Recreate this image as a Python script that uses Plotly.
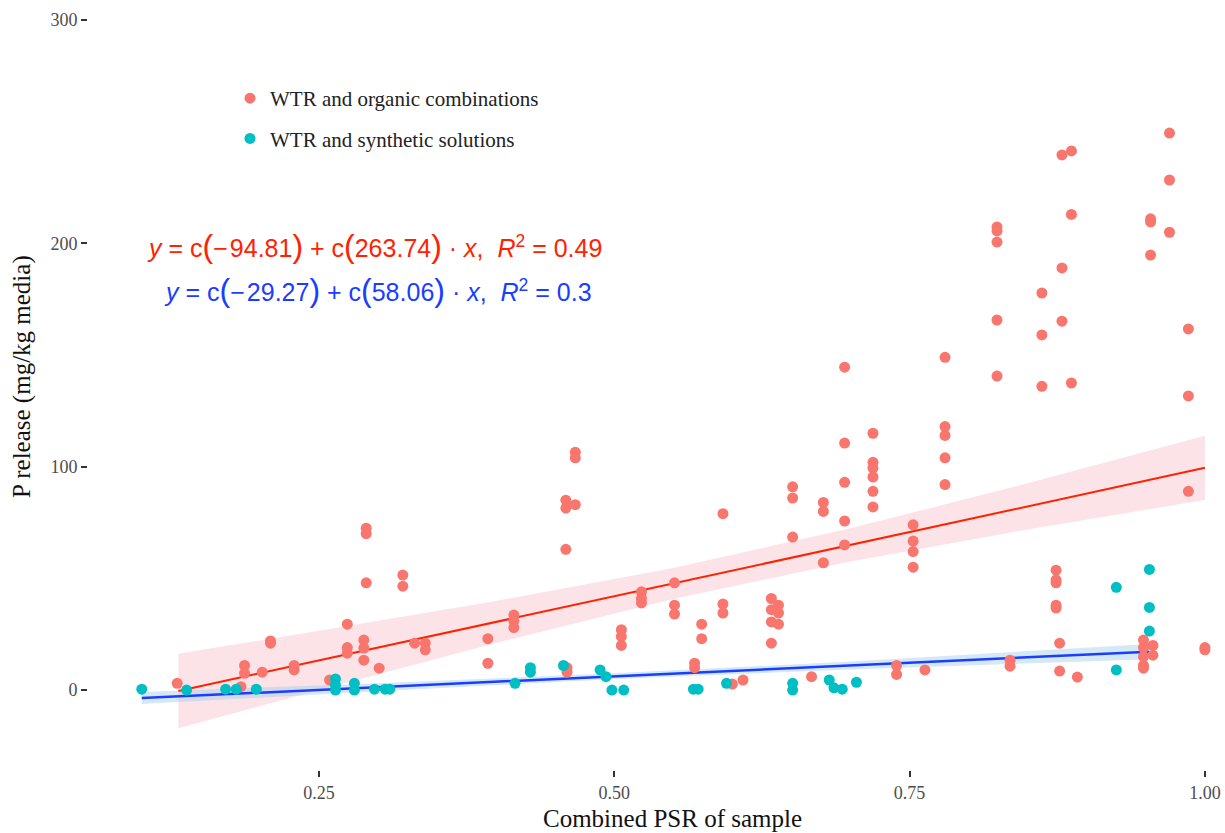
import plotly.graph_objects as go

# ---------------- data ----------------
organic_x = [0.130, 0.184, 0.187, 0.187, 0.202, 0.209, 0.209, 0.229, 0.229, 0.259,
             0.274, 0.274, 0.274, 0.288, 0.288, 0.288, 0.290, 0.290, 0.290, 0.301,
             0.321, 0.321, 0.331, 0.340, 0.340,
             0.393, 0.393, 0.415, 0.415, 0.415, 0.459, 0.459, 0.467, 0.467, 0.467,
             0.459, 0.460, 0.460, 0.506, 0.506, 0.506, 0.523, 0.523, 0.523,
             0.551, 0.551, 0.551, 0.574, 0.574, 0.568, 0.568, 0.592, 0.592, 0.592,
             0.600, 0.609,
             0.633, 0.633, 0.633, 0.633, 0.639, 0.639, 0.639, 0.651, 0.651, 0.651,
             0.667, 0.677, 0.677, 0.677, 0.695, 0.695, 0.695, 0.695, 0.695,
             0.719, 0.719, 0.719, 0.719, 0.719, 0.719, 0.739, 0.739,
             0.753, 0.753, 0.753, 0.753, 0.763, 0.780, 0.780, 0.780, 0.780, 0.780,
             0.824, 0.824, 0.824, 0.824, 0.824, 0.835, 0.835,
             0.862, 0.862, 0.862, 0.874, 0.874, 0.874, 0.874, 0.874, 0.877, 0.877,
             0.879, 0.879, 0.879, 0.887, 0.887, 0.887, 0.892,
             0.954, 0.954, 0.954, 0.948, 0.948, 0.948, 0.948, 0.948, 0.956, 0.956,
             0.970, 0.970, 0.970, 0.986, 0.986, 0.986, 1.000, 1.000]
organic_y = [3.0, 1.5, 11.0, 7.5, 8.0, 22.0, 21.0, 11.0, 9.0, 4.5,
             29.5, 19.0, 16.5, 22.4, 18.8, 13.4, 72.5, 70.0, 48.0, 9.8,
             51.5, 46.5, 21.0, 21.0, 18.0,
             23.0, 12.0, 33.6, 31.0, 28.0, 85.0, 81.5, 83.0, 106.5, 104.0,
             63.0, 10.0, 8.0, 27.0, 24.0, 20.0, 44.0, 41.0, 39.0,
             48.0, 38.0, 34.0, 29.5, 23.0, 12.0, 10.0, 79.0, 38.5, 34.5,
             2.7, 4.5,
             41.0, 36.0, 30.5, 21.0, 38.0, 34.5, 29.5, 91.0, 86.0, 68.5,
             6.0, 84.0, 80.0, 57.0, 144.6, 110.6, 93.0, 75.7, 65.0,
             115.0, 102.0, 99.4, 95.4, 89.0, 82.0, 11.0, 7.0,
             74.0, 66.7, 62.0, 55.0, 9.0, 149.0, 118.0, 114.0, 104.0, 92.0,
             207.4, 205.6, 200.6, 165.7, 140.6, 13.4, 10.7,
             177.8, 159.0, 136.0, 53.7, 49.3, 48.0, 38.0, 36.7, 21.0, 8.5,
             239.6, 189.0, 165.2, 241.4, 213.0, 137.5, 5.8,
             211.0, 209.6, 194.8, 22.4, 19.0, 15.0, 11.0, 9.8, 20.0, 15.6,
             249.4, 228.4, 205.0, 161.7, 131.7, 89.0, 19.0, 18.0]

synthetic_x = [0.100, 0.138, 0.171, 0.180, 0.197, 0.264, 0.264, 0.264, 0.280, 0.280,
               0.297, 0.306, 0.310, 0.416, 0.429, 0.429, 0.457, 0.488, 0.493,
               0.498, 0.508, 0.567, 0.571, 0.595, 0.651, 0.651, 0.682, 0.686,
               0.693, 0.705, 0.925, 0.925, 0.953, 0.953, 0.953]
synthetic_y = [0.4, 0.0, 0.4, 0.4, 0.4, 5.0, 2.2, 0.0, 3.0, 0.0,
               0.4, 0.4, 0.4, 3.0, 10.0, 8.0, 11.0, 9.0, 6.0,
               0.0, 0.0, 0.4, 0.4, 3.0, 3.0, 0.0, 4.5, 1.0,
               0.4, 3.5, 46.0, 9.0, 54.0, 37.0, 26.4]

# fitted lines and confidence bands (as drawn in the reference)
org_fit_x = [0.131, 0.25, 0.40, 0.55, 0.70, 0.85, 1.0]
org_fit_y = [-0.4, 13.3, 30.5, 47.8, 65.0, 82.3, 99.5]
org_fit_lo = [-17.1, 0.0, 21.1, 40.8, 57.6, 71.9, 85.1]
org_fit_hi = [16.3, 26.5, 39.9, 54.7, 72.4, 92.6, 113.9]

syn_fit_x = [0.100, 0.30, 0.50, 0.70, 0.953]
syn_fit_y = [-3.6, 1.3, 6.2, 11.0, 17.2]
syn_fit_lo = [-6.3, -0.5, 4.9, 9.2, 13.8]
syn_fit_hi = [-0.9, 3.1, 7.5, 12.8, 20.6]

series_names = ["WTR and organic combinations", "WTR and synthetic solutions"]
P_OPEN = "<span style='font-size:32px'>(</span>"
P_CLOSE = "<span style='font-size:32px'>)</span>"
eq_organic = ("<i>y</i> = c" + P_OPEN + "\u2212\u200a94.81" + P_CLOSE +
              " + c" + P_OPEN + "263.74" + P_CLOSE + " \u00b7 <i>x</i>,"
              "  <i>R</i><sup>2</sup> = 0.49")
eq_synthetic = ("<i>y</i> = c" + P_OPEN + "\u2212\u200a29.27" + P_CLOSE +
                " + c" + P_OPEN + "58.06" + P_CLOSE + " \u00b7 <i>x</i>,"
                "  <i>R</i><sup>2</sup> = 0.3")

x_ticks = [0.25, 0.50, 0.75, 1.00]
x_ticklabels = ["0.25", "0.50", "0.75", "1.00"]
y_ticks = [0, 100, 200, 300]
y_ticklabels = ["0", "100", "200", "300"]

# ---------------- figure ----------------
RED_PT = "#F8766D"
CYAN_PT = "#00BFC4"
SERIF = "Liberation Serif, Times New Roman, serif"
SANS = "Liberation Sans, Arial, sans-serif"

W, H = 1225, 833
L, R, T, B = 88, 0, 0, 63
pw, ph = W - L - R, H - T - B

fig = go.Figure()

# confidence bands
fig.add_trace(go.Scatter(x=org_fit_x + org_fit_x[::-1], y=org_fit_hi + org_fit_lo[::-1],
                         fill="toself", fillcolor="rgba(248,200,208,0.5)", line=dict(width=0),
                         mode="lines", showlegend=False, hoverinfo="skip"))
fig.add_trace(go.Scatter(x=syn_fit_x + syn_fit_x[::-1], y=syn_fit_hi + syn_fit_lo[::-1],
                         fill="toself", fillcolor="rgba(160,205,235,0.45)", line=dict(width=0),
                         mode="lines", showlegend=False, hoverinfo="skip"))
# fitted lines
fig.add_trace(go.Scatter(x=org_fit_x, y=org_fit_y, mode="lines",
                         line=dict(color="#FF2200", width=2), showlegend=False, hoverinfo="skip"))
fig.add_trace(go.Scatter(x=syn_fit_x, y=syn_fit_y, mode="lines",
                         line=dict(color="#1A3DFF", width=2.5), showlegend=False, hoverinfo="skip"))
# points
fig.add_trace(go.Scatter(x=organic_x, y=organic_y, mode="markers", name=series_names[0],
                         marker=dict(color=RED_PT, size=11, line=dict(width=0)),
                         legendgroup="a"))
fig.add_trace(go.Scatter(x=synthetic_x, y=synthetic_y, mode="markers", name=series_names[1],
                         marker=dict(color=CYAN_PT, size=11, line=dict(width=0)),
                         legendgroup="b"))

fig.add_annotation(x=0.297, y=199, xref="x", yref="y", text=eq_organic, showarrow=False,
                   font=dict(family=SANS, size=25, color="#FF2200"), xanchor="center", yanchor="middle")
fig.add_annotation(x=0.300, y=179, xref="x", yref="y", text=eq_synthetic, showarrow=False,
                   font=dict(family=SANS, size=25, color="#1A3DFF"), xanchor="center", yanchor="middle")

# axis titles (pixel positions converted to paper coordinates)
fig.add_annotation(x=(672 - L) / pw, y=1 - (818 - T) / ph, xref="paper", yref="paper",
                   text="Combined PSR of sample", showarrow=False,
                   xanchor="center", yanchor="middle",
                   font=dict(family=SERIF, size=25, color="#111111"))
fig.add_annotation(x=(22 - L) / pw, y=1 - (377 - T) / ph, xref="paper", yref="paper",
                   text="P release (mg/kg media)", textangle=-90, showarrow=False,
                   xanchor="center", yanchor="middle",
                   font=dict(family=SERIF, size=25, color="#111111"))

fig.update_layout(
    width=W, height=H,
    margin=dict(l=L, r=R, t=T, b=B),
    plot_bgcolor="white", paper_bgcolor="white",
    font=dict(family=SERIF, color="#4D4D4D"),
    showlegend=True,
    legend=dict(x=(230 - L) / pw, y=1 - (78 - T) / ph, xanchor="left", yanchor="top",
                bgcolor="rgba(0,0,0,0)", font=dict(family=SERIF, size=21, color="#222222"),
                traceorder="grouped", tracegroupgap=10),
    xaxis=dict(range=[0.0545, 1.017], tickvals=x_ticks, ticktext=x_ticklabels,
               showgrid=False, zeroline=False, showline=False,
               ticks="outside", ticklen=6, tickwidth=1.5, tickcolor="#333333",
               tickfont=dict(family=SERIF, size=18, color="#4D4D4D")),
    yaxis=dict(range=[-35.8, 309], tickvals=y_ticks, ticktext=y_ticklabels,
               showgrid=False, zeroline=False, showline=False,
               ticks="outside", ticklen=6, tickwidth=1.5, tickcolor="#333333",
               tickfont=dict(family=SERIF, size=18, color="#4D4D4D")),
)

fig.write_html("out.html")
